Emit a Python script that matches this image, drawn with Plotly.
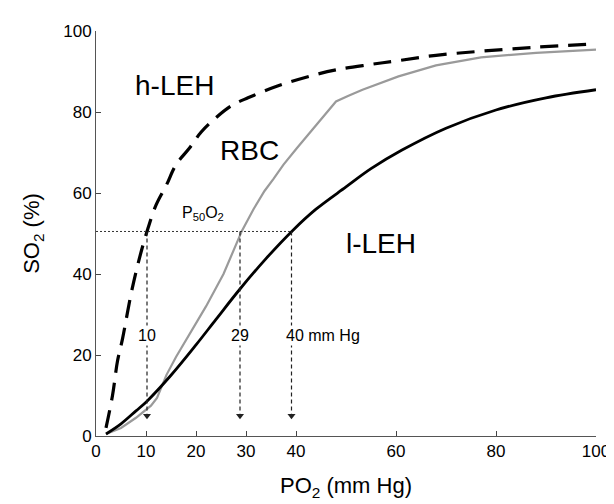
import plotly.graph_objects as go

# ---- data ----
hleh_po2 = [2, 3.3, 4.3, 5.3, 7, 8.5, 10.2, 12, 14.1, 16, 18.7, 21, 23.9, 27, 30.4, 36.3, 42.9, 48, 54.7, 60.6, 68, 77, 88, 100]
hleh_so2 = [2, 10, 18.5, 24, 35, 43, 50.5, 57, 62, 67, 71.1, 75, 78.5, 81.5, 83.5, 86.4, 88.9, 90.4, 91.7, 92.7, 94, 95, 96, 96.8]

rbc_po2 = [2, 5, 8, 10, 11, 12.2, 14.1, 16, 18.6, 22, 25.5, 29.2, 31.5, 33.7, 35.5, 37.5, 40.2, 44.2, 48, 50.5, 53.3, 60.5, 68, 77, 88, 100]
rbc_so2 = [0.5, 2, 4.5, 6.5, 7.5, 9.4, 15.1, 19.5, 25, 32, 40, 50.7, 56, 60.5, 63.5, 67, 71.1, 76.9, 82.6, 84, 85.5, 88.8, 91.5, 93.5, 94.6, 95.4]

lleh_po2 = [2, 5, 8, 10.2, 15, 20, 24, 28.8, 34, 39.3, 44, 50, 55, 61.2, 70, 80, 90, 100]
lleh_so2 = [0.5, 3, 6.2, 8.6, 15, 22.5, 28.8, 36.3, 43.8, 50.7, 56, 61.5, 66, 70.6, 76, 80.5, 83.5, 85.5]

p50_level = 50.5
p50_values = [10.2, 28.8, 39.1]
p50_labels = ["10", "29", "40 mm Hg"]
arrow_end = 4
label_level = 24.7

x_ticks = [0, 10, 20, 30, 40, 60, 80, 100]
y_ticks = [0, 20, 40, 60, 80, 100]

FONT = "Liberation Sans, Arial, sans-serif"

fig = go.Figure()

fig.add_trace(go.Scatter(x=hleh_po2, y=hleh_so2, mode="lines",
                         line=dict(color="black", width=3.2, dash="18px,10px"),
                         line_shape="spline", showlegend=False))
fig.add_trace(go.Scatter(x=rbc_po2, y=rbc_so2, mode="lines",
                         line=dict(color="#9a9a9a", width=2.2),
                         showlegend=False))
fig.add_trace(go.Scatter(x=lleh_po2, y=lleh_so2, mode="lines",
                         line=dict(color="black", width=2.8),
                         line_shape="spline", showlegend=False))

# P50 horizontal dotted line
fig.add_trace(go.Scatter(x=[0, max(p50_values)], y=[p50_level, p50_level], mode="lines",
                         line=dict(color="#333", width=1, dash="2px,2px"), showlegend=False))

# vertical dashed arrows
for xv in p50_values:
    fig.add_trace(go.Scatter(x=[xv, xv], y=[p50_level, arrow_end + 1.5], mode="lines",
                             line=dict(color="#222", width=1.2, dash="4px,3px"), showlegend=False))
fig.add_trace(go.Scatter(x=p50_values, y=[arrow_end + 1.0] * len(p50_values), mode="markers",
                         marker=dict(symbol="triangle-down", size=7, color="#222"),
                         showlegend=False))

# labels on arrows
for xv, lab in zip(p50_values, p50_labels):
    if lab.endswith("mm Hg"):
        fig.add_annotation(x=xv, y=label_level, text=lab, showarrow=False,
                           xanchor="left", xshift=-8, bgcolor="white",
                           font=dict(family=FONT, size=16, color="black"))
    else:
        fig.add_annotation(x=xv, y=label_level, text=lab, showarrow=False,
                           bgcolor="white",
                           font=dict(family=FONT, size=16, color="black"))

fig.add_annotation(x=21.3, y=55, text="P<sub>50</sub>O<sub>2</sub>", showarrow=False,
                   font=dict(family=FONT, size=16, color="black"))
fig.add_annotation(x=15.6, y=86.5, text="h-LEH", showarrow=False,
                   font=dict(family=FONT, size=28, color="black"))
fig.add_annotation(x=30.6, y=70.5, text="RBC", showarrow=False,
                   font=dict(family=FONT, size=28, color="black"))
fig.add_annotation(x=57, y=47.5, text="l-LEH", showarrow=False,
                   font=dict(family=FONT, size=28, color="black"))

fig.update_layout(
    width=614, height=504,
    margin=dict(l=88, r=16, t=23, b=76),
    plot_bgcolor="white", paper_bgcolor="white",
    font=dict(family=FONT, size=17, color="black"),
)
fig.update_xaxes(range=[0, 100], tickvals=x_ticks, ticks="inside", ticklen=5,
                 tickcolor="#444", showline=True, linecolor="#555", linewidth=1,
                 showgrid=False, zeroline=False, tickfont=dict(size=17),
                 title=dict(text="PO<sub>2</sub> (mm Hg)", font=dict(size=22), standoff=17))
fig.update_yaxes(range=[0, 100], tickvals=y_ticks, ticks="inside", ticklen=5,
                 tickcolor="#444", showline=True, linecolor="#555", linewidth=1,
                 showgrid=False, zeroline=False, tickfont=dict(size=17),
                 title=dict(text="SO<sub>2</sub> (%)", font=dict(size=22), standoff=17))

fig.write_html("out.html")
